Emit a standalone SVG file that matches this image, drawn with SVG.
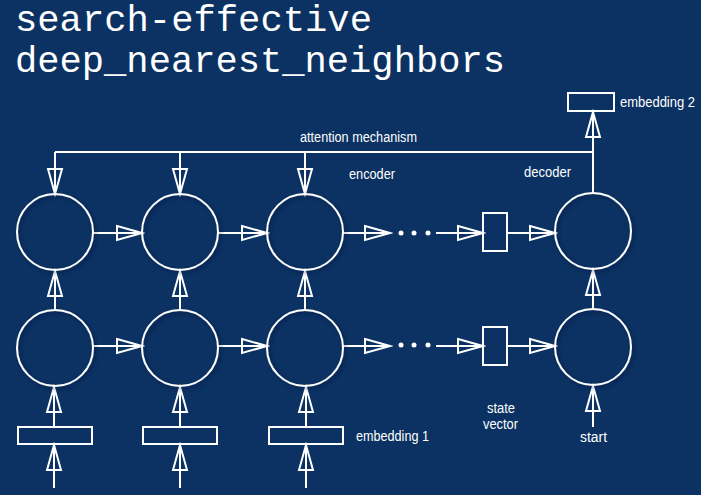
<svg xmlns="http://www.w3.org/2000/svg" width="701" height="495" viewBox="0 0 701 495">
<defs>
<style>
.title{font-family:"Liberation Mono","Courier New",monospace;font-size:37px;fill:#ffffff}
.lbl{font-family:"Liberation Sans",Arial,sans-serif;font-size:14px;fill:#ffffff}
.node{fill:none;stroke:#ffffff;stroke-width:2}
.conn{fill:none;stroke:#ffffff;stroke-width:2;marker-end:url(#ah)}
.plain{fill:none;stroke:#ffffff;stroke-width:2}
.dot{fill:#ffffff}
</style>
<marker id="ah" viewBox="-3 -3 31 20" markerWidth="31" markerHeight="20" refX="25" refY="7" orient="auto" markerUnits="userSpaceOnUse">
<path d="M0,0 L25,7 L0,14 Z" fill="none" stroke="#ffffff" stroke-width="2"/>
</marker>
<filter id="sh" x="-20%" y="-20%" width="150%" height="150%">
<feDropShadow dx="2" dy="2" stdDeviation="2" flood-color="#001030" flood-opacity="0.5"/>
</filter>
</defs>
<rect x="0" y="0" width="701" height="495" fill="#0b3263"/>
<g id="title">
<text class="title" x="15" y="31" textLength="357" lengthAdjust="spacingAndGlyphs">search-effective</text>
<text class="title" x="15" y="72" textLength="490" lengthAdjust="spacingAndGlyphs">deep_nearest_neighbors</text>
</g>
<g id="connectors">
<line class="plain" x1="55" y1="152" x2="593" y2="152"/>
<line class="conn" x1="55" y1="152" x2="55" y2="194"/>
<line class="conn" x1="180" y1="152" x2="180" y2="194"/>
<line class="conn" x1="305" y1="152" x2="305" y2="194"/>
<line class="conn" x1="593" y1="193" x2="593" y2="112"/>
<line class="conn" x1="93" y1="233" x2="142" y2="233"/>
<line class="conn" x1="218" y1="233" x2="267" y2="233"/>
<line class="conn" x1="343" y1="233" x2="390" y2="233"/>
<line class="conn" x1="436" y1="233" x2="483" y2="233"/>
<line class="conn" x1="507" y1="233" x2="555" y2="233"/>
<line class="conn" x1="93" y1="346" x2="142" y2="346"/>
<line class="conn" x1="218" y1="346" x2="267" y2="346"/>
<line class="conn" x1="343" y1="346" x2="390" y2="346"/>
<line class="conn" x1="436" y1="346" x2="483" y2="346"/>
<line class="conn" x1="507" y1="346" x2="555" y2="346"/>
<line class="conn" x1="55" y1="310" x2="55" y2="271"/>
<line class="conn" x1="180" y1="310" x2="180" y2="271"/>
<line class="conn" x1="305" y1="310" x2="305" y2="271"/>
<line class="conn" x1="593" y1="310" x2="593" y2="270"/>
<line class="conn" x1="54" y1="427" x2="54" y2="387"/>
<line class="conn" x1="180" y1="427" x2="180" y2="387"/>
<line class="conn" x1="306" y1="427" x2="306" y2="387"/>
<line class="conn" x1="593" y1="427" x2="593" y2="386"/>
<line class="conn" x1="54" y1="488" x2="54" y2="445"/>
<line class="conn" x1="180" y1="488" x2="180" y2="445"/>
<line class="conn" x1="306" y1="488" x2="306" y2="445"/>
<circle class="dot" cx="401" cy="233" r="2.5"/>
<circle class="dot" cx="414" cy="233" r="2.5"/>
<circle class="dot" cx="428" cy="233" r="2.5"/>
<circle class="dot" cx="401" cy="345" r="2.5"/>
<circle class="dot" cx="414" cy="345" r="2.5"/>
<circle class="dot" cx="428" cy="345" r="2.5"/>
</g>
<g id="enc-top-1"><circle class="node" filter="url(#sh)" cx="55" cy="232" r="38"/></g>
<g id="enc-top-2"><circle class="node" filter="url(#sh)" cx="180" cy="232" r="38"/></g>
<g id="enc-top-3"><circle class="node" filter="url(#sh)" cx="305" cy="232" r="38"/></g>
<g id="dec-top"><circle class="node" filter="url(#sh)" cx="593" cy="231" r="38"/></g>
<g id="enc-bot-1"><circle class="node" filter="url(#sh)" cx="55" cy="348" r="38"/></g>
<g id="enc-bot-2"><circle class="node" filter="url(#sh)" cx="180" cy="348" r="38"/></g>
<g id="enc-bot-3"><circle class="node" filter="url(#sh)" cx="305" cy="348" r="38"/></g>
<g id="dec-bot"><circle class="node" filter="url(#sh)" cx="593" cy="347" r="38"/></g>
<g id="state-top"><rect class="node" x="483" y="213" width="24" height="38"/></g>
<g id="state-bot"><rect class="node" x="483" y="327" width="24" height="38"/></g>
<g id="emb1-1"><rect class="node" x="18" y="427" width="74" height="17"/></g>
<g id="emb1-2"><rect class="node" x="143" y="427" width="74" height="17"/></g>
<g id="emb1-3"><rect class="node" x="269" y="427" width="74" height="17"/></g>
<g id="emb2"><rect class="node" x="568" y="93" width="46" height="18"/></g>
<g id="labels">
<text class="lbl" x="300" y="142" textLength="117" lengthAdjust="spacingAndGlyphs">attention mechanism</text>
<text class="lbl" x="349" y="179" textLength="46" lengthAdjust="spacingAndGlyphs">encoder</text>
<text class="lbl" x="524" y="177" textLength="47" lengthAdjust="spacingAndGlyphs">decoder</text>
<text class="lbl" x="620" y="107" textLength="75" lengthAdjust="spacingAndGlyphs">embedding 2</text>
<text class="lbl" x="356" y="441" textLength="73" lengthAdjust="spacingAndGlyphs">embedding 1</text>
<text class="lbl" x="487" y="413" textLength="28" lengthAdjust="spacingAndGlyphs">state</text>
<text class="lbl" x="483" y="429" textLength="35" lengthAdjust="spacingAndGlyphs">vector</text>
<text class="lbl" x="580" y="442" textLength="27" lengthAdjust="spacingAndGlyphs">start</text>
</g>
</svg>
